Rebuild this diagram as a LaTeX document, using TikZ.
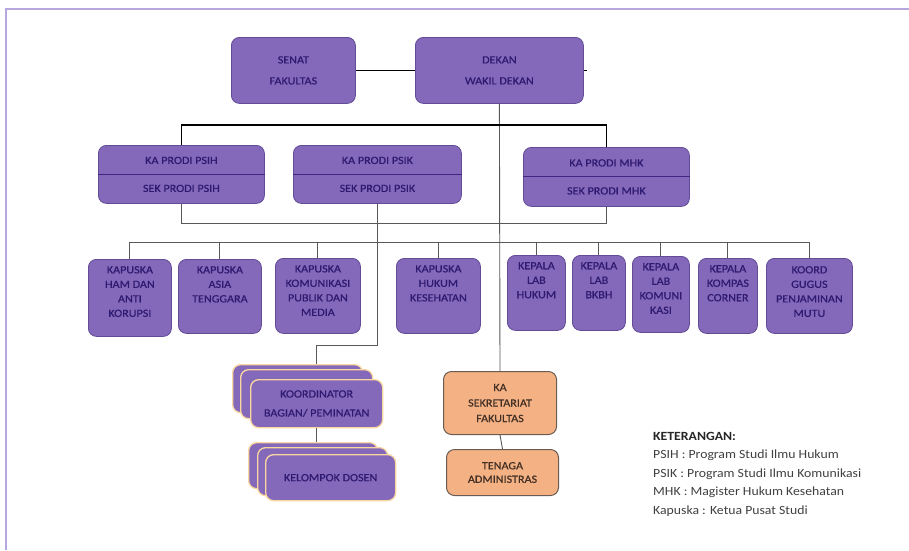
\documentclass[tikz,border=0pt]{standalone}
\usepackage{fontspec}
\setmainfont{Carlito}
\newfontfamily\boxfont[FakeStretch=1.1,FakeBold=0.6]{Carlito}
\newfontfamily\legfont[FakeStretch=1.1]{Carlito}
\usetikzlibrary{calc}
\definecolor{pfill}{RGB}{132,104,186}
\definecolor{pborder}{RGB}{98,76,150}
\definecolor{ptext}{RGB}{46,26,112}
\definecolor{pline}{RGB}{66,38,128}
\definecolor{ofill}{RGB}{244,177,131}
\definecolor{oborder}{RGB}{105,92,82}
\definecolor{otext}{RGB}{66,48,38}
\definecolor{framec}{RGB}{184,166,222}
\definecolor{glow}{RGB}{250,214,160}
\definecolor{legc}{RGB}{64,64,64}
\begin{document}
\begin{tikzpicture}[x=1pt,y=-1pt,
  pbox/.style={draw=pborder,fill=pfill,rounded corners=8pt,line width=0.8pt,inner sep=0pt,anchor=north west,
    text=ptext,font=\boxfont\fontsize{11}{14.5}\selectfont,align=center},
  obox/.style={pbox,draw=oborder,fill=ofill,text=otext,line width=1pt},
  stk/.style={pbox,draw=glow,line width=1.3pt},
  btxt/.style={text=ptext,font=\boxfont\fontsize{11}{14.5}\selectfont,align=center,inner sep=0pt},
  topline/.style={draw=black,line width=1.3pt},
  conn/.style={draw=black!65,line width=0.9pt},
  divider/.style={draw=pline,line width=0.9pt}]
\useasboundingbox (0,0) rectangle (909,550);
\draw[framec,line width=1.6pt] (6,550) -- (6,9) -- (909,9);

% top level
\node[pbox,minimum width=124,minimum height=66,font=\boxfont\fontsize{11}{21}\selectfont] (senat) at (231,37) {SENAT\\FAKULTAS};
\node[pbox,minimum width=168,minimum height=66,font=\boxfont\fontsize{11}{21}\selectfont] (dekan) at (415,37) {DEKAN\\WAKIL DEKAN};

% prodi
\node[pbox,minimum width=166,minimum height=58] (psih) at (98,145) {};
\node[pbox,minimum width=168,minimum height=58] (psik) at (293,145) {};
\node[pbox,minimum width=166,minimum height=59] (mhk) at (523,147) {};
\foreach \b/\t/\s in {psih/KA PRODI PSIH/SEK PRODI PSIH,psik/KA PRODI PSIK/SEK PRODI PSIK,mhk/KA PRODI MHK/SEK PRODI MHK}{
  \draw[divider] (\b.west) -- (\b.east);
  \node[btxt] at ($(\b.center)+(0,-14)$) {\t};
  \node[btxt] at ($(\b.center)+(0,14)$) {\s};
}

% row of units
\node[pbox,minimum width=83,minimum height=77] (k1) at (88,259) {};
\node[pbox,minimum width=83,minimum height=74] (k2) at (178,259) {};
\node[pbox,minimum width=85,minimum height=75] (k3) at (275,258) {};
\node[pbox,minimum width=84,minimum height=75] (k4) at (396,258) {};
\node[pbox,minimum width=58,minimum height=75] (k5) at (507,255) {};
\node[pbox,minimum width=53,minimum height=75] (k6) at (572,255) {};
\node[pbox,minimum width=57,minimum height=76] (k7) at (632,256) {};
\node[pbox,minimum width=59,minimum height=75] (k8) at (698,258) {};
\node[pbox,minimum width=86,minimum height=75] (k9) at (766,258) {};
\node[btxt,anchor=north] at ($(k1.north)+(0,7)$) {KAPUSKA\\HAM DAN\\ANTI\\KORUPSI};
\node[btxt,anchor=north] at ($(k2.north)+(0,7)$) {KAPUSKA\\ASIA\\TENGGARA};
\node[btxt,anchor=north] at ($(k3.north)+(0,7)$) {KAPUSKA\\KOMUNIKASI\\PUBLIK DAN\\MEDIA};
\node[btxt,anchor=north] at ($(k4.north)+(0,7)$) {KAPUSKA\\HUKUM\\KESEHATAN};
\node[btxt,anchor=north] at ($(k5.north)+(0,7)$) {KEPALA\\LAB\\HUKUM};
\node[btxt,anchor=north] at ($(k6.north)+(0,7)$) {KEPALA\\LAB\\BKBH};
\node[btxt,anchor=north] at ($(k7.north)+(0,7)$) {KEPALA\\LAB\\KOMUNI\\KASI};
\node[btxt,anchor=north] at ($(k8.north)+(0,7)$) {KEPALA\\KOMPAS\\CORNER};
\node[btxt,anchor=north] at ($(k9.north)+(0,8)$) {KOORD\\GUGUS\\PENJAMINAN\\MUTU};

% stacks
\node[stk,minimum width=130,minimum height=48] (koorA) at (232,364) {};
\node[stk,minimum width=132,minimum height=49] (koorB) at (240,369) {};
\node[stk,minimum width=132,minimum height=48,font=\boxfont\fontsize{11}{19}\selectfont] (koorC) at (250,379) {KOORDINATOR\\BAGIAN/ PEMINATAN};
\node[stk,minimum width=129,minimum height=46] (kelA) at (248,442) {};
\node[stk,minimum width=130,minimum height=48] (kelB) at (257,447) {};
\node[stk,minimum width=130,minimum height=46] (kelC) at (265,454) {KELOMPOK DOSEN};

% secretariat
\node[obox,minimum width=113,minimum height=63,font=\boxfont\fontsize{11}{15.5}\selectfont] (sekr) at (443,371) {KA\\SEKRETARIAT\\FAKULTAS};
\node[obox,minimum width=112,minimum height=46,font=\boxfont\fontsize{11}{13.5}\selectfont] (tenaga) at (446,449) {TENAGA\\ADMINISTRAS};

% connectors
\coordinate (busA) at (0,125);
\coordinate (busP) at (0,223);
\coordinate (busB) at (0,242);
\coordinate (bendK) at (0,345);
\draw[topline] (senat.east) -- (dekan.east -| dekan.west);
\draw[topline] (dekan.east) -- ++(3,0);
\draw[conn] (dekan.south) -- (sekr.north);
\draw[conn] (sekr.south) -- (tenaga.north);
\draw[topline] (psih.north) -- (psih.north |- busA) -- (mhk.north |- busA) -- (mhk.north);
\draw[conn] (psih.south) -- (psih.south |- busP) -- (mhk.south |- busP) -- (mhk.south);
\draw[conn] (k1.north) -- (k1.north |- busB) -- (k9.north |- busB) -- (k9.north);
\foreach \k in {k2,k3,k4,k5,k6,k7,k8}{\draw[conn] (\k.north) -- (\k.north |- busB);}
\draw[conn] (psik.south) -- (psik.south |- bendK) -- (koorC.north |- bendK) -- (koorC.north |- koorA.north);
\draw[conn] (koorC.south) -- (koorC.south |- kelA.north);

% legend
\node[anchor=north west,inner sep=0pt,align=left,text=legc,font=\legfont\fontsize{12.5}{18.4}\selectfont] (leg) at (653,432)
 {{\bfseries\color{black!85}KETERANGAN:}\\PSIH : Program Studi Ilmu Hukum\\PSIK : Program Studi Ilmu Komunikasi\\MHK : Magister Hukum Kesehatan\\Kapuska : Ketua Pusat Studi};
\end{tikzpicture}
\end{document}
